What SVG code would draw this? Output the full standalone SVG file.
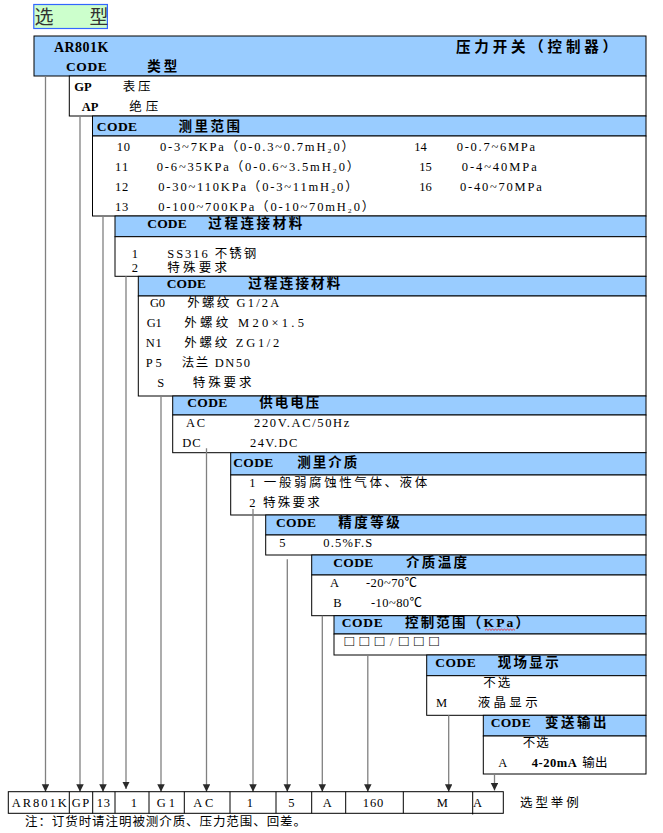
<svg xmlns="http://www.w3.org/2000/svg" width="663" height="833" viewBox="0 0 663 833">
<style>
.hd{fill:#99ccff;stroke:#000;stroke-width:1}
.bx{fill:#fff;stroke:#000;stroke-width:1}
text{font-family:"Liberation Serif","Noto Sans CJK SC",serif;font-size:12.5px;fill:#000}
.b{font-weight:bold}
.cd{font-weight:bold;font-size:13.5px}
.hc{font-family:"Noto Sans CJK SC",sans-serif;font-weight:bold;font-size:13.5px}
.cn{stroke:#808080;stroke-width:1.3;fill:none}
.tb{fill:none;stroke:#000;stroke-width:1}
</style>
<defs>
<marker id="ah" markerUnits="userSpaceOnUse" markerWidth="8" markerHeight="8" refX="7.5" refY="3.75" orient="auto">
<path d="M0,0 L7.5,3.75 L0,7.5 Z" fill="#2a2a2a"/>
</marker>
</defs>
<rect width="663" height="833" fill="#fff"/>

<g id="title">
<rect x="33.8" y="4.5" width="73.6" height="24" fill="#ccffcc" stroke="#3366ff" stroke-width="1.2"/>
<text x="34.5" y="24" style="font-family:'Noto Sans CJK SC',sans-serif;font-size:19px;fill:#333">选</text>
<text x="89.5" y="24" style="font-family:'Noto Sans CJK SC',sans-serif;font-size:19px;fill:#333">型</text>
</g>

<g id="main">
<rect class="hd" x="34" y="36" width="612" height="40"/>
<text class="cd" x="54" y="52" textLength="54.3" style="font-size:14px">AR801K</text>
<text class="hc" x="456" y="51.7" textLength="161" style="font-size:14.5px">压力开关（控制器）</text>
<text class="cd" x="66" y="71" textLength="40.7">CODE</text>
<text class="hc" x="147.3" y="71" textLength="30">类型</text>
</g>

<g id="type">
<rect class="bx" x="69.3" y="76" width="576.7" height="40"/>
<text class="b" x="74.3" y="91">GP</text>
<text x="122.7" y="91" textLength="27.8">表压</text>
<text class="b" x="81.7" y="111">AP</text>
<text x="129.3" y="111" textLength="28.9">绝压</text>
</g>

<g id="range">
<rect class="hd" x="92.5" y="116" width="553.5" height="20"/>
<text class="cd" x="96.7" y="130.7" textLength="40.4">CODE</text>
<text class="hc" x="178.6" y="130.7" textLength="61.5">测里范围</text>
<rect class="bx" x="92.5" y="136" width="553.5" height="80"/>
<text x="116.7" y="151" textLength="13.3">10</text>
<text x="160" y="151" textLength="194">0-3~7KPa（0-0.3~0.7mH₂0）</text>
<text x="414.3" y="151" textLength="12.4">14</text>
<text x="456.7" y="151" textLength="78.3">0-0.7~6MPa</text>
<text x="115" y="171" textLength="13.3">11</text>
<text x="156.7" y="171" textLength="202.6">0-6~35KPa（0-0.6~3.5mH₂0）</text>
<text x="419.3" y="171" textLength="12.4">15</text>
<text x="461.7" y="171" textLength="75">0-4~40MPa</text>
<text x="115" y="191" textLength="13.3">12</text>
<text x="158.3" y="191" textLength="199.4">0-30~110KPa（0-3~11mH₂0）</text>
<text x="419.3" y="191" textLength="12.4">16</text>
<text x="460" y="191" textLength="81.7">0-40~70MPa</text>
<text x="115" y="211" textLength="13.3">13</text>
<text x="158.3" y="211" textLength="216">0-100~700KPa（0-10~70mH₂0）</text>
</g>

<g id="material">
<rect class="hd" x="115" y="216" width="531" height="20.7"/>
<text class="cd" x="147.3" y="228.3" textLength="39.4">CODE</text>
<text class="hc" x="208.3" y="228.3" textLength="94">过程连接材料</text>
<rect class="bx" x="115" y="236.7" width="531" height="39.6"/>
<text x="131.7" y="258.3">1</text>
<text x="167.3" y="258.3" textLength="89">SS316 不锈钢</text>
<text x="131.7" y="272.3">2</text>
<text x="167.3" y="272.3" textLength="59.8">特殊要求</text>
</g>

<g id="connection">
<rect class="hd" x="138.3" y="276.3" width="507.7" height="19.7"/>
<text class="cd" x="166.7" y="288.3" textLength="39.3">CODE</text>
<text class="hc" x="248.3" y="288.3" textLength="92">过程连接材料</text>
<rect class="bx" x="138.3" y="296" width="507.7" height="100"/>
<text x="150" y="306.7" textLength="15">G0</text>
<text x="187.3" y="306.7" textLength="92">外螺纹 G1/2A</text>
<text x="146.7" y="326.7" textLength="15">G1</text>
<text x="184.3" y="326.7" textLength="119.7">外螺纹  M20×1.5</text>
<text x="145.7" y="346.7" textLength="16">N1</text>
<text x="184.3" y="346.7" textLength="95">外螺纹  ZG1/2</text>
<text x="145.7" y="366.7" textLength="16">P5</text>
<text x="181.7" y="366.7" textLength="68.3">法兰 DN50</text>
<text x="157.3" y="386.7">S</text>
<text x="192.7" y="386.7" textLength="58.8">特殊要求</text>
</g>

<g id="power">
<rect class="hd" x="172.7" y="396" width="473.3" height="19"/>
<text class="cd" x="187.3" y="406.7" textLength="40">CODE</text>
<text class="hc" x="259.3" y="406.7" textLength="60">供电电压</text>
<rect class="bx" x="172.7" y="415" width="473.3" height="37.7"/>
<text x="186" y="426.7" textLength="19">AC</text>
<text x="254" y="426.7" textLength="95.3">220V.AC/50Hz</text>
<text x="182.3" y="446.7" textLength="18.4">DC</text>
<text x="250" y="446.7" textLength="47.3">24V.DC</text>
</g>

<g id="medium">
<rect class="hd" x="230.7" y="452.7" width="415.3" height="22.3"/>
<text class="cd" x="233.3" y="466.7" textLength="40">CODE</text>
<text class="hc" x="297.3" y="466.7" textLength="60">测里介质</text>
<rect class="bx" x="230.7" y="475" width="415.3" height="40"/>
<text x="249.3" y="487.3" textLength="177.9">1 一般弱腐蚀性气体、液体</text>
<text x="249.3" y="507.3" textLength="70.5">2 特殊要求</text>
</g>

<g id="accuracy">
<rect class="hd" x="265.7" y="515" width="380.3" height="20"/>
<text class="cd" x="276" y="527.3" textLength="40">CODE</text>
<text class="hc" x="338.3" y="527.3" textLength="61.5">精度等级</text>
<rect class="bx" x="265.7" y="535" width="380.3" height="20"/>
<text x="279.3" y="546.7">5</text>
<text x="323.3" y="546.7" textLength="49">0.5%F.S</text>
</g>

<g id="temperature">
<rect class="hd" x="311.7" y="555" width="334.3" height="20"/>
<text class="cd" x="333.3" y="567.3" textLength="40">CODE</text>
<text class="hc" x="406" y="567.3" textLength="61">介质温度</text>
<rect class="bx" x="311.7" y="575" width="334.3" height="40.7"/>
<text x="330" y="586.7">A</text>
<text x="366" y="586.7" textLength="51">-20~70℃</text>
<text x="333.3" y="606.7">B</text>
<text x="371" y="606.7" textLength="51">-10~80℃</text>
</g>

<g id="control">
<rect class="hd" x="334" y="615.7" width="312" height="18.3"/>
<text class="cd" x="341.7" y="627.3" textLength="41">CODE</text>
<text class="hc" x="405" y="627.3" textLength="124">控制范围（<tspan font-family="Liberation Serif">KPa</tspan>）</text>
<path d="M485,630.3 l1.5,-1.2 l1.5,1.2 l1.5,-1.2 l1.5,1.2 l1.5,-1.2 l1.5,1.2 l1.5,-1.2 l1.5,1.2 l1.5,-1.2 l1.5,1.2 l1.5,-1.2 l1.5,1.2 l1.5,-1.2 l1.5,1.2 l1.5,-1.2 l1.5,1.2 l1.5,-1.2 l1.5,1.2 l1.5,-1.2 l1.5,1.2" fill="none" stroke="#ff0000" stroke-width="0.7"/>
<rect class="bx" x="334" y="634" width="312" height="21"/>
<text x="344.5" y="646" textLength="94" style="font-size:15.5px">□□□<tspan fill="#555" font-size="12.5">/</tspan>□□□</text>
</g>

<g id="display">
<rect class="hd" x="426.7" y="655" width="219.3" height="20.7"/>
<text class="cd" x="435.3" y="666.7" textLength="40.4">CODE</text>
<text class="hc" x="497.7" y="666.7" textLength="61">现场显示</text>
<rect class="bx" x="426.7" y="675.7" width="219.3" height="39.6"/>
<text x="483.3" y="686.7" textLength="27">不选</text>
<text x="436" y="706.7">M</text>
<text x="477.7" y="706.7" textLength="60">液晶显示</text>
</g>

<g id="output">
<rect class="hd" x="483.3" y="715.3" width="162.7" height="20.7"/>
<text class="cd" x="490.7" y="726.7" textLength="40">CODE</text>
<text class="hc" x="545" y="726.7" textLength="61.5">变送输出</text>
<rect class="bx" x="483.3" y="736" width="162.7" height="38"/>
<text x="522.7" y="746.7" textLength="26">不选</text>
<text x="498.3" y="766.7">A</text>
<text class="b" x="531.7" y="766.7" textLength="45">4-20mA</text>
<text x="582.3" y="766.7" textLength="25.3">输出</text>
</g>

<g id="connectors">
<line class="cn" x1="45.5" y1="76" x2="45.5" y2="791.7" marker-end="url(#ah)"/>
<line class="cn" x1="80" y1="116" x2="80" y2="791.7" marker-end="url(#ah)"/>
<line class="cn" x1="103" y1="216" x2="103" y2="791.7" marker-end="url(#ah)"/>
<line class="cn" x1="126" y1="276.3" x2="126" y2="789" marker-end="url(#ah)"/>
<line class="cn" x1="161" y1="396" x2="161" y2="791.7" marker-end="url(#ah)"/>
<line class="cn" x1="206.5" y1="448.3" x2="206.5" y2="791.7" marker-end="url(#ah)"/>
<line class="cn" x1="253" y1="509" x2="253" y2="791.7" marker-end="url(#ah)"/>
<line class="cn" x1="287.3" y1="559.3" x2="287.3" y2="791.7" marker-end="url(#ah)"/>
<line class="cn" x1="322.3" y1="615.7" x2="322.3" y2="791.7" marker-end="url(#ah)"/>
<line class="cn" x1="367.8" y1="655" x2="367.8" y2="791.7" marker-end="url(#ah)"/>
<line class="cn" x1="448.7" y1="715.3" x2="448.7" y2="791.7" marker-end="url(#ah)"/>
<line class="cn" x1="494.5" y1="774" x2="494.5" y2="790.5" marker-end="url(#ah)"/>
</g>

<g id="example">
<rect class="tb" x="8.3" y="791.7" width="495" height="21.6"/>
<path class="tb" d="M69.3,791.7V813.3 M92.7,791.7V813.3 M115,791.7V813.3 M149,791.7V813.3 M184.3,791.7V813.3 M230,791.7V813.3 M276,791.7V813.3 M311.7,791.7V813.3 M345.7,791.7V813.3 M403.3,791.7V813.3 M472.7,791.7V814.5"/>
<text x="11.7" y="806.7" textLength="55">AR801K</text>
<text x="71.7" y="806.7" textLength="17.6">GP</text>
<text x="96.7" y="806.7" textLength="13.3">13</text>
<text x="130.7" y="806.7">1</text>
<text x="156.7" y="806.7" textLength="18.3">G1</text>
<text x="193.3" y="806.7" textLength="20">AC</text>
<text x="246.7" y="806.7">1</text>
<text x="288.3" y="806.7">5</text>
<text x="322.7" y="806.7">A</text>
<text x="362.7" y="806.7" textLength="20.6">160</text>
<text x="436.7" y="806.7">M</text>
<text x="472.9" y="806.7">A</text>
<text x="520" y="806.7" textLength="58.8">选型举例</text>
<text x="25" y="826" textLength="281" style="font-family:'Noto Sans CJK SC',sans-serif">注：订货时请注明被测介质、压力范围、回差。</text>
</g>
</svg>
